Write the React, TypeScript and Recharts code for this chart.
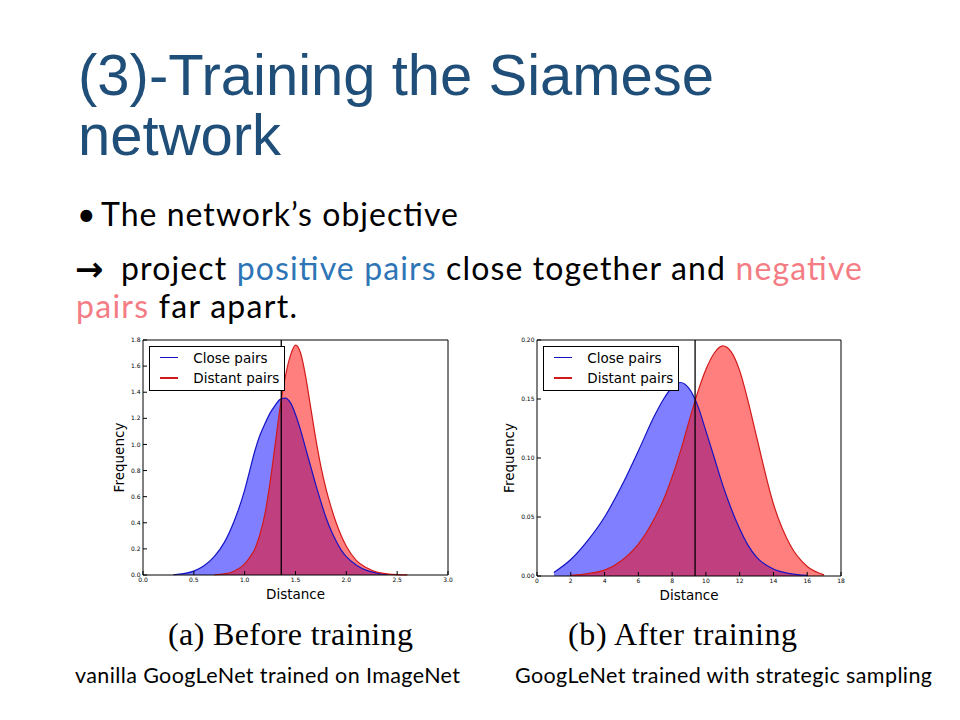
import React from "react"
import {
  ComposedChart, Area, Line, XAxis, YAxis, ReferenceLine, Legend, Label,
} from "recharts"

// (a) before training
const distA = [0.3, 0.4, 0.5, 0.6, 0.7, 0.8, 0.9,
  1.0, 1.05, 1.1, 1.15, 1.2, 1.25, 1.3, 1.35, 1.4, 1.45, 1.5, 1.55, 1.6, 1.65, 1.7, 1.75, 1.8, 1.85, 1.9, 1.95, 2.0,
  2.1, 2.2, 2.3, 2.4, 2.5, 2.6]
const closeA = [0.002, 0.01, 0.03, 0.07, 0.14, 0.25, 0.42,
  0.65, 0.8, 0.95, 1.07, 1.16, 1.24, 1.3, 1.345, 1.355, 1.32, 1.23, 1.11, 0.97, 0.83, 0.69, 0.56, 0.44, 0.34, 0.26, 0.19, 0.14,
  0.075, 0.035, 0.015, 0.004, null, null]
const distantA = [null, null, null, null, 0.002, 0.008, 0.03,
  0.085, 0.135, 0.2, 0.31, 0.47, 0.71, 1.0, 1.29, 1.52, 1.68, 1.76, 1.7, 1.52, 1.28, 1.04, 0.83, 0.66, 0.52, 0.4, 0.3, 0.22,
  0.11, 0.055, 0.022, 0.009, 0.003, 0.001]
const xTicksA = [0, 0.5, 1, 1.5, 2, 2.5, 3]
const yTicksA = [0, 0.2, 0.4, 0.6, 0.8, 1.0, 1.2, 1.4, 1.6, 1.8]
const cutA = 1.36

// (b) after training
const distB = [1, 2, 3, 4, 5, 6, 7, 7.5, 8, 8.5, 9, 9.5, 10, 10.5, 11, 11.5, 12, 12.5, 13, 14, 15, 16, 17]
const closeB = [0.003, 0.014, 0.03, 0.05, 0.076, 0.106, 0.137, 0.15, 0.16, 0.164, 0.159, 0.145, 0.123, 0.1, 0.077,
  0.057, 0.04, 0.026, 0.016, 0.006, 0.002, 0.0005, null]
const distantB = [null, 0.0005, 0.002, 0.005, 0.013, 0.027, 0.05, 0.065, 0.084, 0.106, 0.131, 0.155, 0.175, 0.189, 0.195,
  0.19, 0.174, 0.148, 0.118, 0.061, 0.026, 0.008, 0.001]
const xTicksB = [0, 2, 4, 6, 8, 10, 12, 14, 16, 18]
const yTicksB = [0, 0.05, 0.1, 0.15, 0.2]
const cutB = 9.36

const SERIES = [
  { key: "close", name: "Close pairs", fill: "#0000ff", stroke: "#1414c4" },
  { key: "distant", name: "Distant pairs", fill: "#ff0000", stroke: "#d21a1a" },
]

const MPL = "DejaVu Sans, sans-serif"
const tickStyle = { fontSize: 6, fill: "#000", fontFamily: MPL }

const makeRows = (d: number[], c: (number | null)[], s: (number | null)[]) =>
  d.map((x, i) => ({ d: x, close: c[i], distant: s[i] }))

const LegendBox = () => (
  <div style={{
    width: 134, height: 43, border: "1px solid #000", background: "#fff",
    fontFamily: MPL, fontSize: 13.5, position: "relative",
  }}>
    {SERIES.map((s, i) => (
      <div key={s.key} style={{ position: "absolute", left: 0, top: 3 + i * 20.5, height: 16, display: "flex", alignItems: "center" }}>
        <div style={{ marginLeft: 10, width: 18, height: 1.5, background: s.stroke }} />
        <span style={{ marginLeft: 15, lineHeight: "16px", whiteSpace: "nowrap" }}>{s.name}</span>
      </div>
    ))}
  </div>
)

type ChartProps = {
  rows: { d: number; close: number | null; distant: number | null }[]
  xTicks: number[]
  yTicks: number[]
  xFmt: (v: number) => string
  yFmt: (v: number) => string
  cut: number
  yWidth: number
  right: number
  xHeight: number
  legendLeft: number
}

const DistChart = ({ rows, xTicks, yTicks, xFmt, yFmt, cut, yWidth, right, xHeight, legendLeft }: ChartProps) => {
  const xDom = [xTicks[0], xTicks[xTicks.length - 1]]
  const yDom = [yTicks[0], yTicks[yTicks.length - 1]]
  return (
    <ComposedChart width={360} height={280} data={rows} margin={{ top: 10, right, bottom: 0, left: 0 }}>
      <XAxis xAxisId="b" dataKey="d" type="number" domain={xDom} ticks={xTicks} interval={0}
        tickFormatter={xFmt} tickSize={-4} tickMargin={6.5} height={xHeight}
        axisLine={{ stroke: "#000" }} tickLine={{ stroke: "#000" }} tick={tickStyle}>
        <Label content={({ viewBox }: any) => (
          <text x={viewBox.x + viewBox.width / 2} y={viewBox.y + 24} textAnchor="middle"
            fontFamily={MPL} fontSize={13.5} fill="#000">Distance</text>
        )} />
      </XAxis>
      <XAxis xAxisId="t" orientation="top" mirror dataKey="d" type="number" domain={xDom} ticks={xTicks}
        interval={0} tick={false} tickSize={4} axisLine={{ stroke: "#000" }} tickLine={{ stroke: "#000" }} />
      <YAxis yAxisId="l" type="number" domain={yDom} ticks={yTicks} interval={0} width={yWidth}
        tickFormatter={yFmt} tickSize={-4} tickMargin={6.5}
        axisLine={{ stroke: "#000" }} tickLine={{ stroke: "#000" }} tick={tickStyle}>
        <Label content={({ viewBox }: any) => {
          const cx = viewBox.x + 19
          const cy = viewBox.y + viewBox.height / 2
          return (
            <text x={cx} y={cy} transform={`rotate(-90, ${cx}, ${cy})`} textAnchor="middle"
              dominantBaseline="central" fontFamily={MPL} fontSize={13.5} fill="#000">Frequency</text>
          )
        }} />
      </YAxis>
      <YAxis yAxisId="r" orientation="right" mirror type="number" domain={yDom} ticks={yTicks} interval={0}
        tick={false} tickSize={4} axisLine={{ stroke: "#000" }} tickLine={{ stroke: "#000" }} />
      {SERIES.map((s) => (
        <Area key={s.key + "-fill"} xAxisId="b" yAxisId="l" type="monotone" dataKey={s.key} name={s.name}
          stroke="none" fill={s.fill} fillOpacity={0.5} dot={false} activeDot={false}
          isAnimationActive={false} legendType="none" />
      ))}
      {SERIES.map((s) => (
        <Line key={s.key + "-line"} xAxisId="t" yAxisId="r" type="monotone" dataKey={s.key} name={s.name}
          stroke={s.stroke} strokeWidth={1.2} dot={false} activeDot={false} isAnimationActive={false} />
      ))}
      <ReferenceLine xAxisId="b" yAxisId="l" x={cut} stroke="#000" strokeWidth={1.3} />
      <Legend layout="vertical" align="center" verticalAlign="middle" content={() => <LegendBox />}
        wrapperStyle={{ top: 15.7, left: legendLeft, width: "auto", height: "auto" }} />
    </ComposedChart>
  )
}

const BODY = "Lato, sans-serif"

export default function App() {
  return (
    <div style={{ position: "absolute", left: 0, top: 0, width: 960, height: 720, background: "#fff", overflow: "hidden" }}>
      <svg width={960} height={720} style={{ position: "absolute", left: 0, top: 0 }}>
        <text x={78} y={95} fontFamily="Liberation Sans, Arial, sans-serif" fontSize={58} fill="#1F4E79">
          (3)-Training the Siamese
        </text>
        <text x={78} y={155} fontFamily="Liberation Sans, Arial, sans-serif" fontSize={58} fill="#1F4E79">
          network
        </text>
        <text x={77} y={226} fontFamily={BODY} fontSize={32} fill="#000">•</text>
        <text x={101} y={226} fontFamily={BODY} fontSize={32} fill="#000" textLength={357} lengthAdjust="spacing">
          The network’s objective
        </text>
        <text x={75} y={281} fontFamily={MPL} fontSize={34} fontWeight="bold" fill="#000">→</text>
        <text x={121} y={280} fontFamily={BODY} fontSize={32} fill="#000" textLength={741} lengthAdjust="spacing">
          <tspan>project </tspan>
          <tspan fill="#2E75B6">positive pairs</tspan>
          <tspan> close together and </tspan>
          <tspan fill="#F47C84">negative</tspan>
        </text>
        <text x={76} y={318} fontFamily={BODY} fontSize={32} fill="#000" textLength={221} lengthAdjust="spacing">
          <tspan fill="#F47C84">pairs</tspan>
          <tspan> far apart.</tspan>
        </text>
        <text x={168} y={645} fontFamily="Liberation Serif, serif" fontSize={32} fill="#000" textLength={245} lengthAdjust="spacing">
          (a) Before training
        </text>
        <text x={568} y={645} fontFamily="Liberation Serif, serif" fontSize={32} fill="#000" textLength={229} lengthAdjust="spacing">
          (b) After training
        </text>
        <text x={75} y={683} fontFamily={BODY} fontSize={21.5} fill="#000" textLength={385} lengthAdjust="spacing">
          vanilla GoogLeNet trained on ImageNet
        </text>
        <text x={515} y={683} fontFamily={BODY} fontSize={21.5} fill="#000" textLength={417} lengthAdjust="spacing">
          GoogLeNet trained with strategic sampling
        </text>
      </svg>
      <div style={{ position: "absolute", left: 100, top: 330 }}>
        <DistChart rows={makeRows(distA, closeA, distantA)} xTicks={xTicksA} yTicks={yTicksA}
          xFmt={(v) => v.toFixed(1)} yFmt={(v) => v.toFixed(1)} cut={cutA}
          yWidth={43} right={12} xHeight={35} legendLeft={49.3} />
      </div>
      <div style={{ position: "absolute", left: 490, top: 330 }}>
        <DistChart rows={makeRows(distB, closeB, distantB)} xTicks={xTicksB} yTicks={yTicksB}
          xFmt={(v) => String(v)} yFmt={(v) => v.toFixed(2)} cut={cutB}
          yWidth={47} right={9} xHeight={34} legendLeft={53.3} />
      </div>
    </div>
  )
}
